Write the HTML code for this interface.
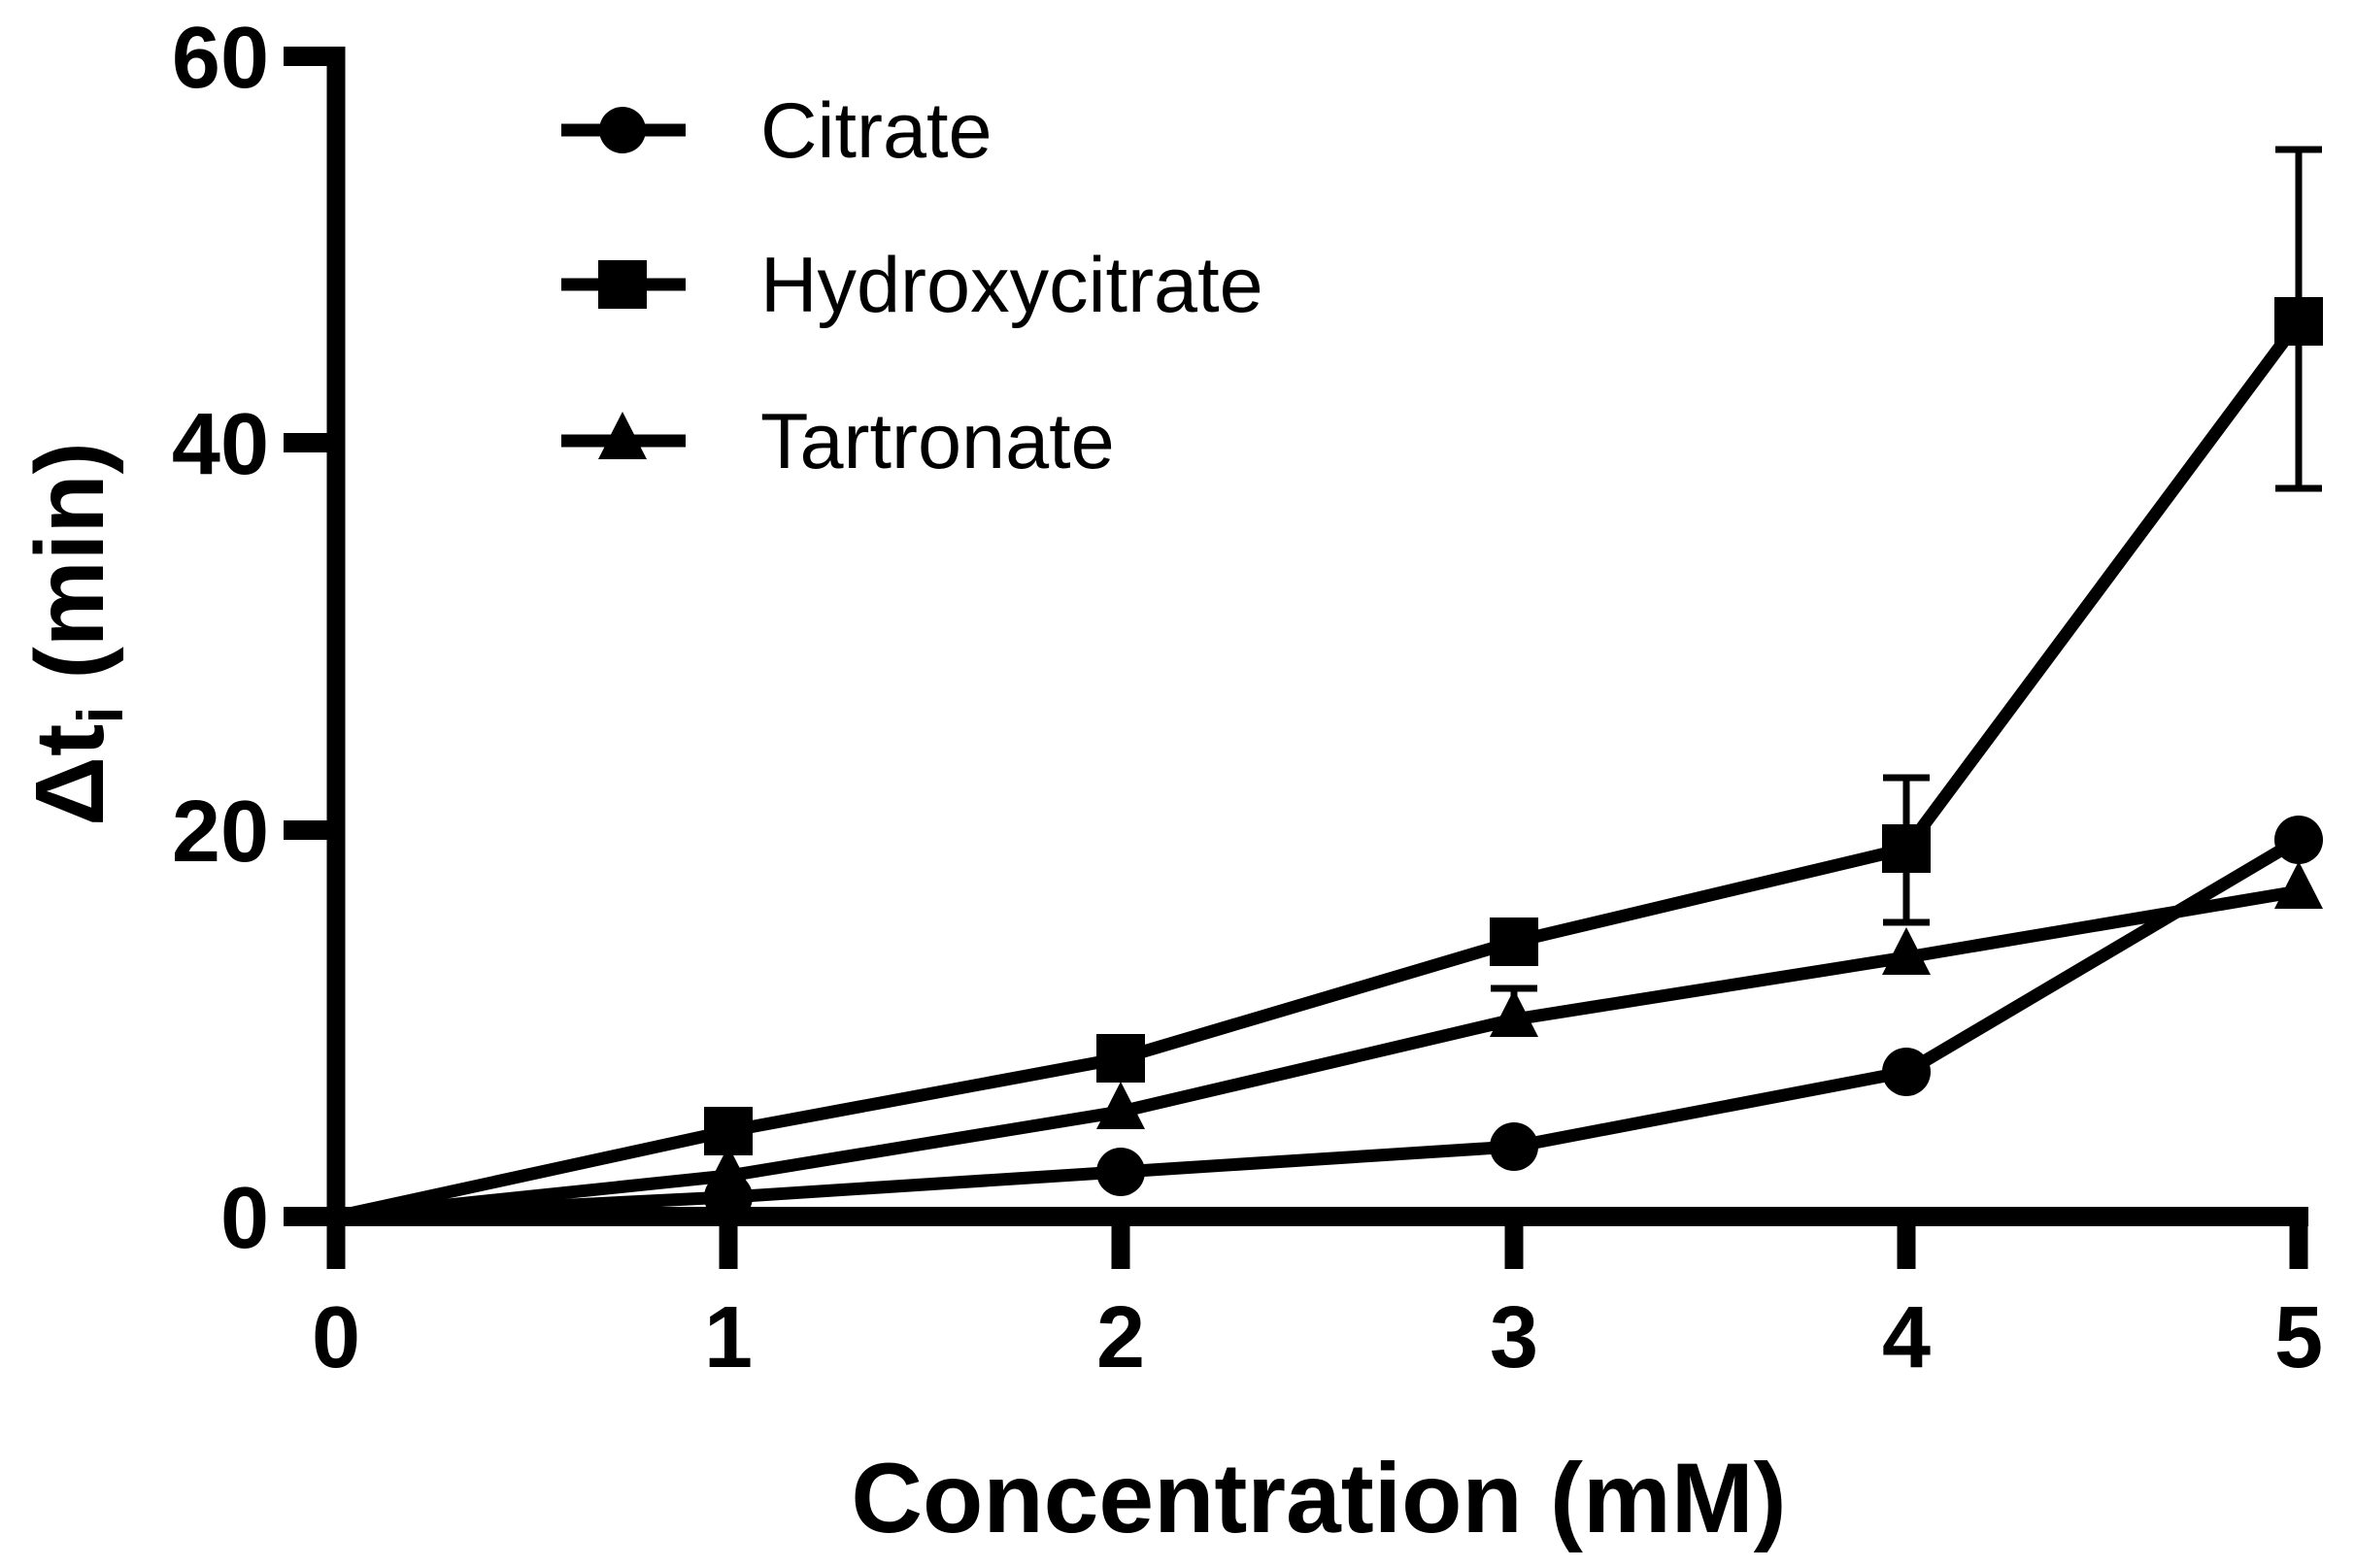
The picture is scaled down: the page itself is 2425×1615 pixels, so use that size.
<!DOCTYPE html>
<html><head><meta charset="utf-8"><style>html,body{margin:0;padding:0;background:#fff}svg{display:block}</style></head>
<body>
<svg width="2425" height="1615" viewBox="0 0 2425 1615" xmlns="http://www.w3.org/2000/svg">
<rect width="2425" height="1615" fill="#fff"/>
<g fill="none" stroke="#000" stroke-linejoin="round">
<line x1="346" y1="48" x2="346" y2="1263" stroke-width="19"/>
<line x1="337" y1="1253" x2="2377" y2="1253" stroke-width="20"/>
<g stroke-width="20">
<line x1="292" y1="58" x2="346" y2="58"/>
<line x1="292" y1="456" x2="346" y2="456"/>
<line x1="292" y1="855" x2="346" y2="855"/>
<line x1="292" y1="1253" x2="346" y2="1253"/>
</g>
<g stroke-width="19">
<line x1="346" y1="1253" x2="346" y2="1307"/>
<line x1="750" y1="1253" x2="750" y2="1307"/>
<line x1="1154" y1="1253" x2="1154" y2="1307"/>
<line x1="1559" y1="1253" x2="1559" y2="1307"/>
<line x1="1963" y1="1253" x2="1963" y2="1307"/>
<line x1="2367" y1="1253" x2="2367" y2="1307"/>
</g>
<g stroke-width="7">
<line x1="2367" y1="154" x2="2367" y2="503"/>
<line x1="2343" y1="154" x2="2391" y2="154"/>
<line x1="2343" y1="503" x2="2391" y2="503"/>
<line x1="1963" y1="801" x2="1963" y2="950"/>
<line x1="1939" y1="801" x2="1987" y2="801"/>
<line x1="1939" y1="950" x2="1987" y2="950"/>
<line x1="1559" y1="1018" x2="1559" y2="1050"/>
<line x1="1535" y1="1018" x2="1583" y2="1018"/>
</g>
<polyline stroke-width="13" points="346,1253 750,1233 1154,1207 1559,1181 1963,1104 2367,865"/>
<polyline stroke-width="13" points="346,1253 750,1165 1154,1090 1559,970 1963,874 2367,331"/>
<polyline stroke-width="13" points="346,1253 750,1211 1154,1145 1559,1050 1963,986 2367,918"/>
<line x1="578" y1="134" x2="706" y2="134" stroke-width="13"/>
<line x1="578" y1="293" x2="706" y2="293" stroke-width="13"/>
<line x1="578" y1="454" x2="706" y2="454" stroke-width="13"/>
</g>
<g fill="#000">
<circle cx="750" cy="1233" r="25"/><circle cx="1154" cy="1207" r="25"/><circle cx="1559" cy="1181" r="25"/><circle cx="1963" cy="1104" r="25"/><circle cx="2367" cy="865" r="25"/>
<rect x="725" y="1140" width="50" height="50"/><rect x="1129" y="1065" width="50" height="50"/><rect x="1534" y="945" width="50" height="50"/><rect x="1938" y="849" width="50" height="50"/><rect x="2342" y="306" width="50" height="50"/>
<polygon points="750,1180 775,1229 725,1229"/>
<polygon points="1154,1114 1179,1163 1129,1163"/>
<polygon points="1559,1019 1584,1068 1534,1068"/>
<polygon points="1963,955 1988,1004 1938,1004"/>
<polygon points="2367,887 2392,936 2342,936"/>
<circle cx="641" cy="134" r="24"/>
<rect x="616" y="268" width="50" height="50"/>
<polygon points="641,424 666,473 616,473"/>
</g>
<g font-family="Liberation Sans, Arial, sans-serif" fill="#000">
<g font-size="90" font-weight="bold" text-anchor="end">
<text x="277" y="90">60</text><text x="277" y="488">40</text><text x="277" y="887">20</text><text x="277" y="1285">0</text>
</g>
<g font-size="90" font-weight="bold" text-anchor="middle">
<text x="346" y="1408">0</text><text x="750" y="1408">1</text><text x="1154" y="1408">2</text><text x="1559" y="1408">3</text><text x="1963" y="1408">4</text><text x="2367" y="1408">5</text>
</g>
<g font-size="81">
<text x="783" y="162">Citrate</text>
<text x="783" y="321">Hydroxycitrate</text>
<text x="783" y="482">Tartronate</text>
</g>
<text x="1358" y="1578" text-anchor="middle" font-size="102" font-weight="bold">Concentration (mM)</text>
<text transform="translate(106,653) rotate(-90)" text-anchor="middle" font-size="100" font-weight="bold">Δt<tspan font-size="66" dy="20">i</tspan><tspan dy="-20"> (min)</tspan></text>
</g>
</svg>
</body></html>
